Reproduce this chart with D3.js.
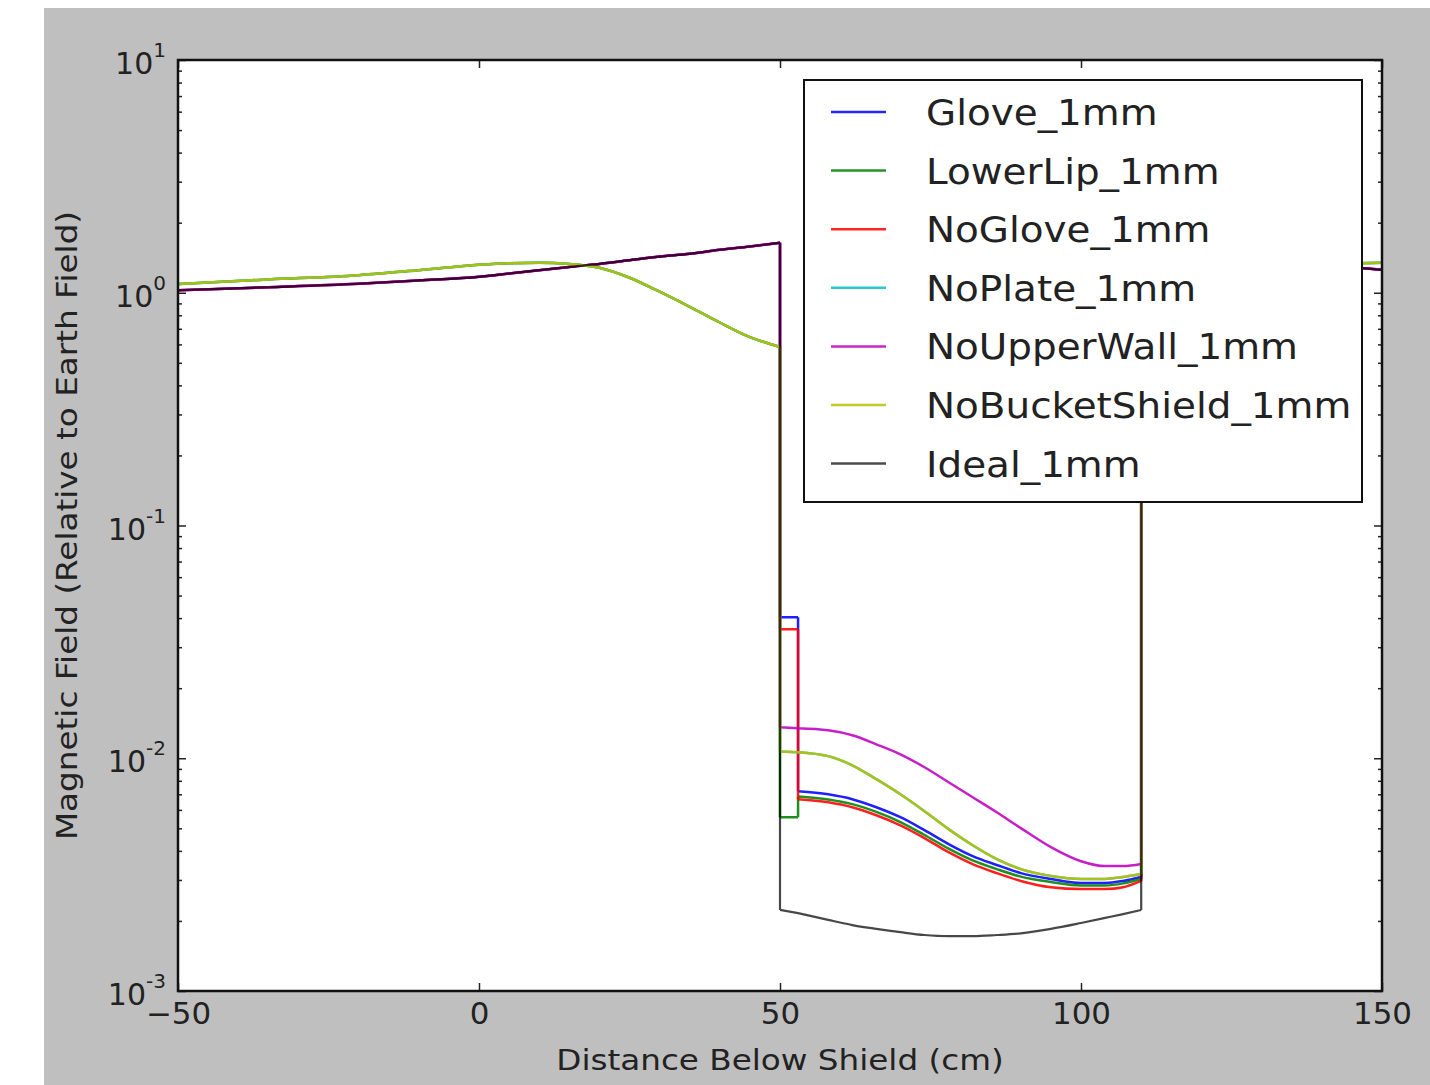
<html>
<meta charset="UTF-8">
<head>
    <title>field</title>
    <style>
        body { margin: 0; background: #fff; }
        text { font-family: "DejaVu Sans", sans-serif; fill: #222; }
    </style>
</head>
<body>
<script src="https://cdn.jsdelivr.net/npm/d3@7"></script>
<script>
    // x positions of each stretch of the curves (cm)
    let xLeft = [-50, -35, -20, -10, 0, 5, 10, 15, 20, 25, 30, 35, 40, 45, 50]
    let xStep = [50, 53]
    let xInner = [53, 58, 62, 66, 70, 74, 78, 82, 86, 90, 95, 100, 104, 107, 110]
    let xRight = [110, 120, 130, 140, 150]

    // outside the bucket two families of curves
    let leftA = [1.025, 1.056, 1.093, 1.13, 1.171, 1.21, 1.25, 1.29, 1.33, 1.38, 1.43, 1.47, 1.53, 1.58, 1.64]
    let leftB = [1.09, 1.14, 1.19, 1.25, 1.32, 1.34, 1.345, 1.33, 1.28, 1.16, 1.01, 0.87, 0.745, 0.645, 0.585]
    let rightA = [1.62, 1.5, 1.4, 1.32, 1.255]
    let rightB = [0.6, 0.85, 1.15, 1.32, 1.345]

    // values just inside the bucket (x = 50..53)
    let stepGlove = [0.0403, 0.0403]
    let stepLowerLip = [0.00558, 0.00558]
    let stepNoGlove = [0.0358, 0.0358]
    let stepNoPlate = [0.0107, 0.0106]
    let stepNoUpperWall = [0.0136, 0.01345]
    let stepNoBucket = [0.0107, 0.0106]
    let stepIdeal = [0.00223, 0.00216]

    // inside the bucket
    let innerGlove = [0.00722, 0.00700, 0.00667, 0.00616, 0.00558, 0.00491, 0.00428, 0.00380, 0.00348, 0.00321, 0.00303, 0.00291, 0.00291, 0.00297, 0.00309]
    let innerLowerLip = [0.00685, 0.00665, 0.00635, 0.00588, 0.00532, 0.00468, 0.00409, 0.00364, 0.00334, 0.00310, 0.00294, 0.00284, 0.00284, 0.00290, 0.00303]
    let innerNoGlove = [0.00667, 0.00647, 0.00616, 0.00569, 0.00515, 0.00454, 0.00395, 0.00351, 0.00321, 0.00297, 0.00279, 0.00274, 0.00274, 0.00279, 0.00297]
    let innerNoPlate = [0.01061, 0.01021, 0.00933, 0.00813, 0.00700, 0.00592, 0.00496, 0.00423, 0.00369, 0.00334, 0.00312, 0.00303, 0.00303, 0.00309, 0.00318]
    let innerNoUpperWall = [0.01345, 0.01318, 0.01255, 0.01148, 0.01040, 0.00915, 0.00789, 0.00680, 0.00586, 0.00501, 0.00415, 0.00361, 0.00344, 0.00344, 0.00351]
    let innerNoBucket = [0.01061, 0.01021, 0.00933, 0.00813, 0.00700, 0.00592, 0.00496, 0.00423, 0.00369, 0.00334, 0.00312, 0.00303, 0.00303, 0.00309, 0.00318]
    let innerIdeal = [0.00216, 0.00202, 0.00192, 0.00185, 0.00179, 0.00174, 0.00172, 0.00172, 0.00174, 0.00177, 0.00185, 0.00196, 0.00206, 0.00214, 0.00223]

    let names = ["Glove_1mm", "LowerLip_1mm", "NoGlove_1mm", "NoPlate_1mm", "NoUpperWall_1mm", "NoBucketShield_1mm", "Ideal_1mm"]
    let colors = ["#0000ff", "#008000", "#ff0000", "#00bfbf", "#bf00bf", "#bfbf00", "#000000"]
    let xTicks = [-50, 0, 50, 100, 150]
    let yTicks = [1e-3, 1e-2, 1e-1, 1, 10]
    let yTickLabels = ["-3", "-2", "-1", "0", "1"]

    let series = [
        [leftA, stepGlove, innerGlove, rightA],
        [leftB, stepLowerLip, innerLowerLip, rightB],
        [leftA, stepNoGlove, innerNoGlove, rightA],
        [leftB, stepNoPlate, innerNoPlate, rightB],
        [leftA, stepNoUpperWall, innerNoUpperWall, rightA],
        [leftB, stepNoBucket, innerNoBucket, rightB],
        [leftA, stepIdeal, innerIdeal, rightA]
    ]

    let W = 1430, H = 1085
    let pLeft = 178, pRight = 1382, pTop = 60, pBottom = 991

    // the picture's lettering is a little wider than plain DejaVu
    function widen(sel, k) {
        sel.each(function () {
            let w = this.getComputedTextLength()
            d3.select(this).attr("textLength", w * k).attr("lengthAdjust", "spacingAndGlyphs")
        })
    }

    let svg = d3.select("body").append("svg")
        .attr("width", W)
        .attr("height", H)

    svg.append("rect")
        .attr("x", 44).attr("y", 8)
        .attr("width", W - 44).attr("height", H - 8)
        .attr("fill", "#bfbfbf")

    svg.append("rect")
        .attr("x", pLeft).attr("y", pTop)
        .attr("width", pRight - pLeft).attr("height", pBottom - pTop)
        .attr("fill", "#fff")

    let x = d3.scaleLinear().domain([-50, 150]).range([pLeft, pRight])
    let y = d3.scaleLog().domain([1e-3, 10]).range([pBottom, pTop])

    svg.append("clipPath").attr("id", "clip")
        .append("rect")
        .attr("x", pLeft).attr("y", pTop)
        .attr("width", pRight - pLeft).attr("height", pBottom - pTop)

    let smooth = d3.line().x(d => x(d[0])).y(d => y(d[1])).curve(d3.curveMonotoneX)
    let straight = d3.line().x(d => x(d[0])).y(d => y(d[1]))

    function build_path(s) {
        let pl = xLeft.map((v, i) => [v, s[0][i]])
        let ps = xStep.map((v, i) => [v, s[1][i]])
        let pi = xInner.map((v, i) => [v, s[2][i]])
        let pr = xRight.map((v, i) => [v, s[3][i]])
        return smooth(pl)
            + straight([pl[pl.length - 1], ps[0]])
            + straight(ps)
            + straight([ps[ps.length - 1], pi[0]])
            + smooth(pi)
            + straight([pi[pi.length - 1], pr[0]])
            + smooth(pr)
    }

    let lines = svg.append("g").attr("clip-path", "url(#clip)")
    series.forEach((s, i) => {
        lines.append("path")
            .attr("d", build_path(s))
            .attr("fill", "none")
            .attr("stroke", colors[i])
            .attr("stroke-width", i == 6 ? 2.2 : 2.5)
            .attr("stroke-opacity", i == 6 ? 0.72 : 0.88)
            .attr("stroke-linejoin", "round")
    })

    // ticks, pointing inward on all sides
    let minor = []
    for (let e = -3; e < 1; e++) {
        for (let k = 2; k < 10; k++) minor.push(k * Math.pow(10, e))
    }

    function style_axis(g) {
        g.select(".domain").remove()
        g.selectAll(".tick line").attr("stroke", "#222").attr("stroke-width", 1.5)
    }

    svg.append("g").attr("transform", "translate(0," + pBottom + ")")
        .call(d3.axisBottom(x).tickValues(xTicks).tickSize(-8).tickPadding(12)
            .tickFormat(d => d < 0 ? "\u2212" + Math.abs(d) : d))
        .call(style_axis)
        .selectAll("text")
        .attr("font-size", 30).attr("font-family", "DejaVu Sans").attr("fill", "#222")
        .call(widen, 1.03)

    svg.append("g").attr("transform", "translate(0," + pTop + ")")
        .call(d3.axisTop(x).tickValues(xTicks).tickSize(-8).tickFormat(""))
        .call(style_axis)

    svg.append("g").attr("transform", "translate(" + pLeft + ",0)")
        .call(d3.axisLeft(y).tickValues(yTicks).tickSize(-8).tickFormat(""))
        .call(style_axis)
    svg.append("g").attr("transform", "translate(" + pLeft + ",0)")
        .call(d3.axisLeft(y).tickValues(minor).tickSize(-4).tickFormat(""))
        .call(style_axis)
    svg.append("g").attr("transform", "translate(" + pRight + ",0)")
        .call(d3.axisRight(y).tickValues(yTicks).tickSize(-8).tickFormat(""))
        .call(style_axis)
    svg.append("g").attr("transform", "translate(" + pRight + ",0)")
        .call(d3.axisRight(y).tickValues(minor).tickSize(-4).tickFormat(""))
        .call(style_axis)

    // y tick labels as 10 with superscript
    let yl = svg.append("g").selectAll("text")
        .data(yTicks).enter()
        .append("text")
        .attr("x", 166)
        .attr("y", d => y(d) + 14)
        .attr("text-anchor", "end")
        .attr("font-size", 30)
    yl.append("tspan").text("10")
    yl.append("tspan")
        .attr("dy", -17)
        .attr("font-size", 20)
        .text((d, i) => yTickLabels[i])

    svg.append("rect")
        .attr("x", pLeft).attr("y", pTop)
        .attr("width", pRight - pLeft).attr("height", pBottom - pTop)
        .attr("fill", "none")
        .attr("stroke", "#111")
        .attr("stroke-width", 2.5)

    svg.append("text")
        .attr("x", (pLeft + pRight) / 2)
        .attr("y", 1070)
        .attr("text-anchor", "middle")
        .attr("font-size", 29)
        .text("Distance Below Shield (cm)")
        .call(widen, 1.125)

    svg.append("text")
        .attr("transform", "translate(77," + (pTop + pBottom) / 2 + ") rotate(-90)")
        .attr("text-anchor", "middle")
        .attr("font-size", 29)
        .text("Magnetic Field (Relative to Earth Field)")
        .call(widen, 1.125)

    // legend
    let legend = svg.append("g")
    legend.append("rect")
        .attr("x", 804).attr("y", 80)
        .attr("width", 558).attr("height", 422)
        .attr("fill", "#fff")
        .attr("stroke", "#111")
        .attr("stroke-width", 2)

    let entry = legend.selectAll("g.entry")
        .data(names).enter()
        .append("g")
        .attr("transform", (d, i) => "translate(0," + (112 + i * 58.6) + ")")
    entry.append("line")
        .attr("x1", 831).attr("x2", 886)
        .attr("stroke", (d, i) => colors[i])
        .attr("stroke-width", 2.5)
        .attr("stroke-opacity", (d, i) => i == 6 ? 0.7 : 0.85)
    entry.append("text")
        .attr("x", 926)
        .attr("dy", "0.36em")
        .attr("font-size", 36)
        .text(d => d)
        .call(widen, 1.08)
</script>
</body>
</html>
